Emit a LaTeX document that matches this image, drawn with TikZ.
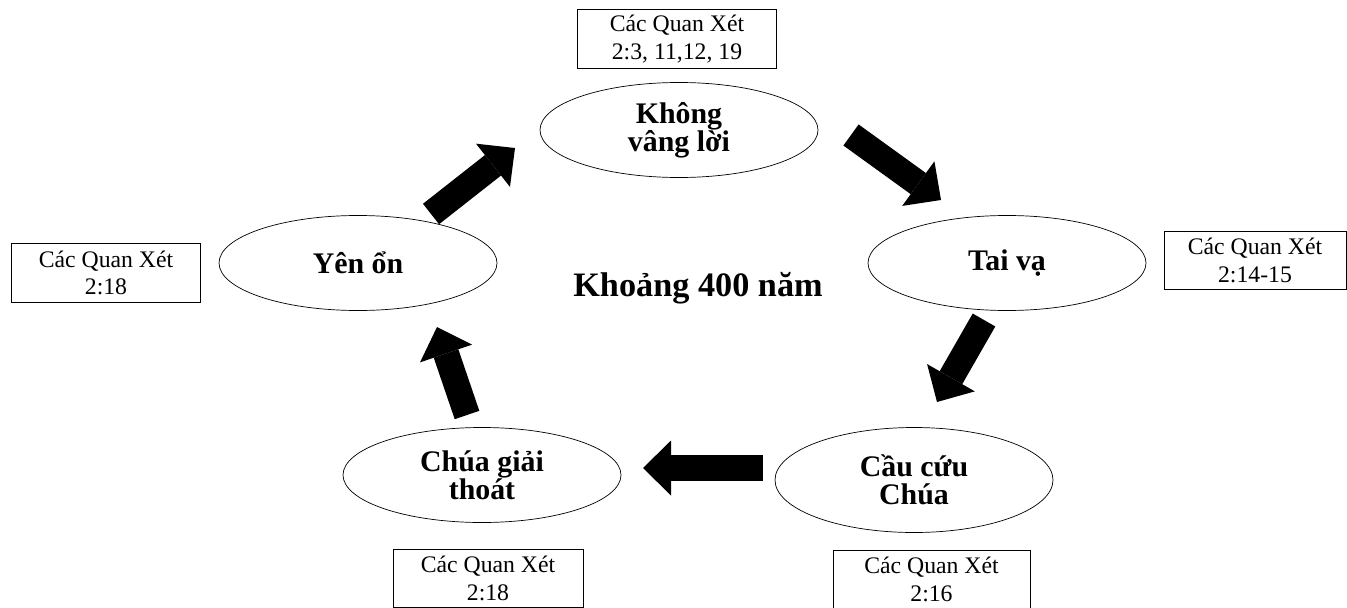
\documentclass[tikz,border=0pt]{standalone}
\usepackage{fontspec}
\setmainfont{Liberation Serif}
\usepackage{tikz}
\usetikzlibrary{shapes,arrows.meta,positioning,calc}

\begin{document}
\begin{tikzpicture}[
    stage/.style={ellipse, draw=black, thin, minimum width=5.56cm, minimum height=1.9cm, inner sep=0pt, align=center, font=\fontsize{17}{16}\selectfont\bfseries},
    ref/.style={rectangle, draw=black, thin, minimum width=3.9cm, minimum height=1.17cm, inner sep=0pt, align=center, font=\fontsize{13.5}{15.5}\selectfont},
    flow/.style={line width=0.52cm, -{Triangle[width=1.1cm, length=0.56cm, line width=0pt]}},
]
    \useasboundingbox (0,0) rectangle (26.94,12.14);

    % Stages
    \node[stage] (khong) at (13.58,9.54) {Không\\vâng lời};
    \node[stage] (taiva) at (20.14,6.88) {Tai vạ};
    \node[stage, minimum height=2.1cm] (caucuu) at (18.28,2.54) {Cầu cứu\\Chúa};
    \node[stage] (giaithoat) at (9.64,2.64) {Chúa giải\\thoát};
    \node[stage] (yenon) at (7.16,6.88) {Yên ổn};

    \node[font=\fontsize{19.5}{21}\selectfont\bfseries] (thoigian) at (13.96,6.38) {Khoảng 400 năm};

    % References
    \node[ref, minimum width=3.98cm] (refkhong) at (13.54,11.36) {Các Quan Xét\\2:3, 11,12, 19};
    \node[ref, minimum width=3.64cm] (reftai) at (25.1,6.93) {Các Quan Xét\\2:14-15};
    \node[ref, minimum width=3.94cm] (refcau) at (18.63,0.55) {Các Quan Xét\\2:16};
    \node[ref, minimum width=3.8cm] (refgiai) at (9.76,0.57) {Các Quan Xét\\2:18};
    \node[ref, minimum width=3.78cm] (refyen) at (2.12,6.68) {Các Quan Xét\\2:18};

    % Arrows
    \coordinate (a1) at (8.62,7.86);  \coordinate (b1) at (10.30,9.18);
    \coordinate (a2) at (17.02,9.44); \coordinate (b2) at (18.82,8.14);
    \coordinate (a3) at (19.68,5.74); \coordinate (b3) at (18.74,4.10);
    \coordinate (a4) at (15.26,2.78); \coordinate (b4) at (12.86,2.78);
    \coordinate (a5) at (9.34,3.84);  \coordinate (b5) at (8.74,5.60);

    \foreach \i in {1,...,5}
        \draw[flow] (a\i) -- (b\i);
\end{tikzpicture}
\end{document}
